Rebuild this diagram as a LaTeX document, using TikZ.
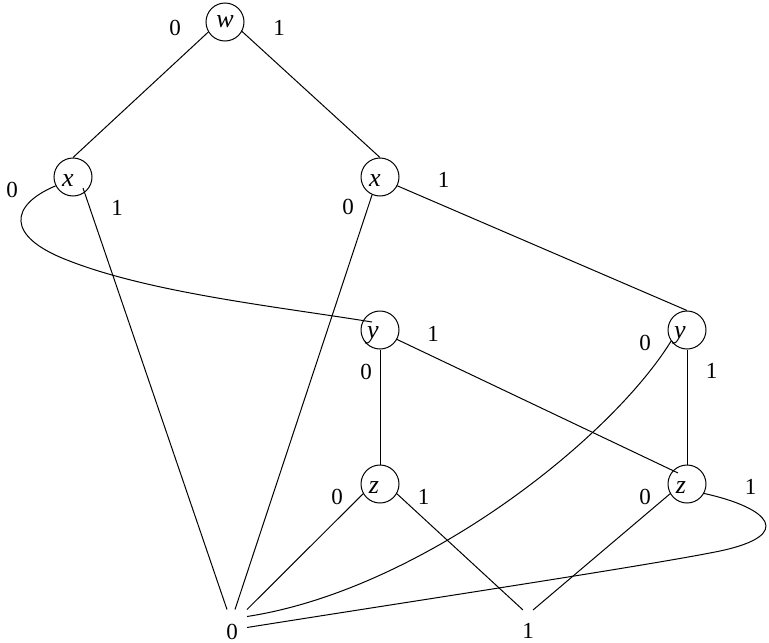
\documentclass[tikz,border=0pt]{standalone}
\usepackage{fontspec}
\setmainfont{Liberation Serif}
\usetikzlibrary{calc}
\begin{document}
\begin{tikzpicture}[x=1pt,y=-1pt,
  vnode/.style={circle,draw,line width=1pt,minimum size=38pt,inner sep=0pt},
  lettr/.style={font=\fontsize{26}{26}\selectfont\itshape,inner sep=0pt},
  lbl/.style={font=\fontsize{23}{23}\selectfont,inner sep=0pt,anchor=center},
  edge/.style={line width=1pt}]
\useasboundingbox (0,0) rectangle (769,643);
% decision nodes
\node[vnode,label={[lettr]center:w}] (w) at (225,22) {};
\node[vnode,label={[lettr,xshift=-5pt,yshift=-4pt]center:x}] (x1) at (73,177) {};
\node[vnode,label={[lettr,xshift=-5pt,yshift=-4pt]center:x}] (x2) at (380,177) {};
\node[vnode,label={[lettr,xshift=-7pt,yshift=-5pt]center:y}] (y1) at (380,330) {};
\node[vnode,label={[lettr,xshift=-7pt,yshift=-5pt]center:y}] (y2) at (687,330) {};
\node[vnode,label={[lettr,xshift=-6pt,yshift=-4pt]center:z}] (z1) at (380,484) {};
\node[vnode,label={[lettr,xshift=-6pt,yshift=-4pt]center:z}] (z2) at (687,484) {};
% terminals
\node[lbl] (t0) at (232,631.5) {0};
\node[lbl] (t1) at (528,631) {1};
% edges
\draw[edge] (w.211) -- (x1.90);
\draw[edge] (w.331) -- (x2.90);
\draw[edge] (x1.207) .. controls (10,205) and (5,236) .. (67,260)
   .. controls (150,293) and (280,307) .. ($(y1)+(-8,-8)$);
\draw[edge] ($(x1)+(10,11)$) -- ($(t0)+(-5,-22)$);
\draw[edge] (x2.246) -- ($(t0)+(3,-22)$);
\draw[edge] (x2.333) -- (y2.90);
\draw[edge] (y1.south) -- (z1.north);
\draw[edge] (y1.331) -- ($(z2)+(-9,-11)$);
\draw[edge] (y2.215) .. controls (610,440) and (420,590) .. ($(t0)+(15,-15)$);
\draw[edge] (y2.south) -- (z2.north);
\draw[edge] (z1.210) -- ($(t0)+(15,-22)$);
\draw[edge] (z1.330) -- ($(t1)+(-5,-21)$);
\draw[edge] (z2.210) -- ($(t1)+(5,-21)$);
\draw[edge] (z2.331) .. controls (770,508) and (795,535) .. (720,551)
   .. controls (652,565) and (420,600) .. ($(t0)+(15,-4)$);
% edge labels
\node[lbl] (lw0) at (175,28) {0};
\node[lbl] (lw1) at (279,28) {1};
\node[lbl] (lx10) at (12,190) {0};
\node[lbl] (lx11) at (117,208) {1};
\node[lbl] (lx20) at (348,207) {0};
\node[lbl] (lx21) at (443.5,180) {1};
\node[lbl] (ly11) at (433,333.5) {1};
\node[lbl] (ly10) at (366,372) {0};
\node[lbl] (ly20) at (645,343) {0};
\node[lbl] (ly21) at (711.5,370.5) {1};
\node[lbl] (lz10) at (337,496.5) {0};
\node[lbl] (lz11) at (423.5,496.5) {1};
\node[lbl] (lz20) at (645,496.5) {0};
\node[lbl] (lz21) at (750.5,486.5) {1};
\end{tikzpicture}
\end{document}
